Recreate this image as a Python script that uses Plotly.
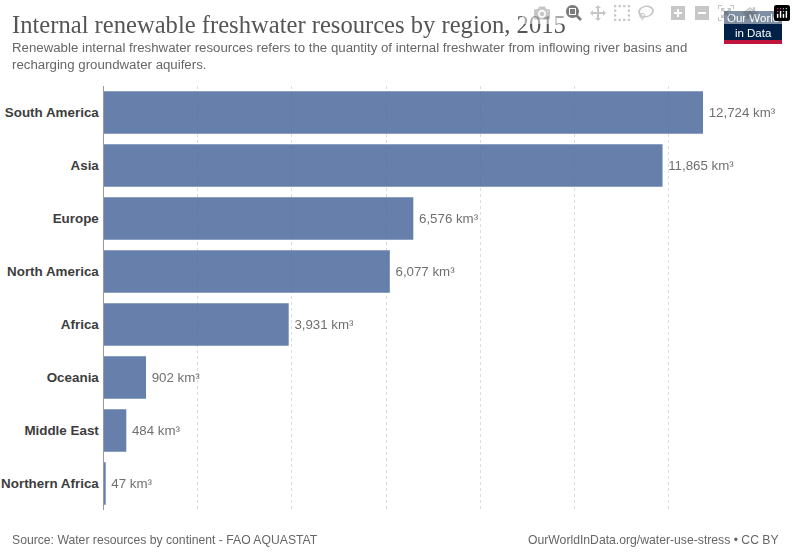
"""Internal renewable freshwater resources by region, horizontal bars."""

import plotly.graph_objects as go

WIDTH = 796
HEIGHT = 554

regions = [
    "South America",
    "Asia",
    "Europe",
    "North America",
    "Africa",
    "Oceania",
    "Middle East",
    "Northern Africa",
]
resources_km3 = [12724, 11865, 6576, 6077, 3931, 902, 484, 47]
grid_ticks = [2000, 4000, 6000, 8000, 10000, 12000]

title = "Internal renewable freshwater resources by region, 2015"
subtitle = (
    "Renewable internal freshwater resources refers to the quantity of internal freshwater "
    "from inflowing river basins and<br>recharging groundwater aquifers."
)
source = "Source: Water resources by continent - FAO AQUASTAT"
url = "OurWorldInData.org/water-use-stress • CC BY"

SANS = "Liberation Sans"
SERIF = "Liberation Serif"


def px_x(x):
    return x / WIDTH


def px_y(y):
    return 1 - y / HEIGHT


def text_note(x, y, text, size, color, font=SANS, xanchor="left", yanchor="middle"):
    return dict(
        x=px_x(x),
        y=px_y(y),
        xref="paper",
        yref="paper",
        text=text,
        showarrow=False,
        xanchor=xanchor,
        yanchor=yanchor,
        align=xanchor,
        font=dict(family=font, size=size, color=color),
    )


fig = go.Figure(
    go.Bar(
        x=resources_km3,
        y=regions,
        orientation="h",
        width=0.8,
        marker=dict(color="#4C6A9C", line=dict(width=0)),
        opacity=0.85,
        # thin space keeps the label a little further from the bar end
        text=[f"\u2009{v:,} km³" for v in resources_km3],
        textposition="outside",
        cliponaxis=False,
        textfont=dict(family=SANS, size=13.3, color="#555555"),
    )
)

fig.update_xaxes(
    domain=[px_x(103.5), px_x(703)],
    range=[0, resources_km3[0]],
    tickvals=grid_ticks,
    showticklabels=False,
    showgrid=True,
    gridcolor="#dddddd",
    griddash="3px,3px",
    gridwidth=1,
    zeroline=False,
)
fig.update_yaxes(
    domain=[px_y(510), px_y(86)],
    categoryorder="array",
    categoryarray=regions,
    autorange="reversed",
    showline=True,
    linecolor="#999999",
    linewidth=1,
    ticks="",
    ticklabelstandoff=1,
    tickfont=dict(family=SANS, size=13.4, color="#3d3d3d", weight="bold"),
)

fig.update_layout(
    width=WIDTH,
    height=HEIGHT,
    autosize=False,
    margin=dict(l=0, r=0, t=0, b=0),
    paper_bgcolor="white",
    plot_bgcolor="white",
    showlegend=False,
    shapes=[
        dict(
            type="rect",
            xref="paper",
            yref="paper",
            x0=px_x(724),
            x1=px_x(782),
            y0=px_y(44),
            y1=px_y(11),
            fillcolor="#002147",
            line=dict(width=0),
        ),
        dict(
            type="rect",
            xref="paper",
            yref="paper",
            x0=px_x(724),
            x1=px_x(782),
            y0=px_y(44),
            y1=px_y(40),
            fillcolor="#C0143C",
            line=dict(width=0),
        ),
    ],
    annotations=[
        text_note(10, 25, title, 24.6, "#555555", font=SERIF),
        text_note(10, 56, subtitle, 13.25, "#666666"),
        text_note(10, 540, source, 12.2, "#666666"),
        text_note(781, 540, url, 12.2, "#666666", xanchor="right"),
        text_note(753, 25.5, "Our World<br>in Data", 11.5, "white", xanchor="center"),
    ],
)

# drop the browser's default body margin so the figure fills the window
fig.write_html("out.html", post_script="document.body.style.margin = '0';")
